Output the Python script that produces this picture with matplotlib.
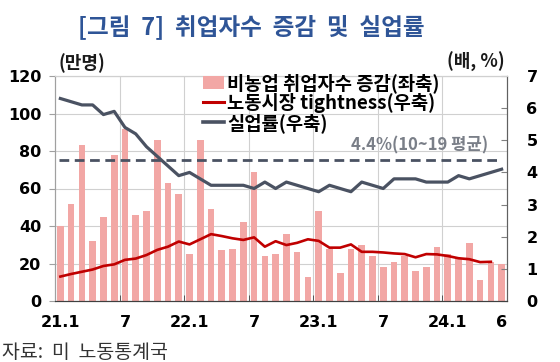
import numpy as np
import matplotlib
matplotlib.use("Agg")
import matplotlib.pyplot as plt
from matplotlib.patches import Patch
from matplotlib.lines import Line2D

plt.rcParams['font.family'] = ['Noto Sans CJK KR', 'DejaVu Sans']

# 21.1 ~ 24.6 월별
months = list(range(42))
tick_pos = [0, 6, 12, 18, 24, 30, 36, 41]
tick_labels = ['21.1', '7', '22.1', '7', '23.1', '7', '24.1', '6']

# 비농업 취업자수 증감 (만명, 좌축)
emp_change = [40, 52, 83, 32, 45, 78, 92, 46, 48, 86, 63, 57,
              25, 86, 49, 27, 28, 42, 69, 24, 25, 36, 26, 13,
              48, 28, 15, 28, 30, 24, 18, 21, 24, 16, 18, 29,
              25, 23, 31, 11, 21, 20]

# 노동시장 tightness (배, 우축) - 24.6 없음
tightness = [0.76, 0.84, 0.91, 0.98, 1.09, 1.14, 1.28, 1.32, 1.43, 1.59, 1.69, 1.85,
             1.76, 1.92, 2.08, 2.02, 1.95, 1.90, 1.98, 1.69, 1.86, 1.74, 1.81, 1.92,
             1.87, 1.66, 1.66, 1.76, 1.53, 1.53, 1.51, 1.48, 1.46, 1.36, 1.46, 1.45,
             1.40, 1.33, 1.30, 1.21, 1.22, np.nan]

# 실업률 (%, 우축)
unemp = [6.3, 6.2, 6.1, 6.1, 5.8, 5.9, 5.4, 5.2, 4.8, 4.5, 4.2, 3.9,
         4.0, 3.8, 3.6, 3.6, 3.6, 3.6, 3.5, 3.7, 3.5, 3.7, 3.6, 3.5,
         3.4, 3.6, 3.5, 3.4, 3.7, 3.6, 3.5, 3.8, 3.8, 3.8, 3.7, 3.7,
         3.7, 3.9, 3.8, 3.9, 4.0, 4.1]

avg_unemp = 4.4  # 10~19 평균

bar_color = '#F2A7A5'
red = '#C00000'
gray = '#4A5262'
grid_color = '#D0D0D0'
tick_font = {'family': 'DejaVu Sans', 'weight': 'bold', 'size': 11.5}

fig = plt.figure(figsize=(5.6, 3.62), dpi=100)
ax = fig.add_axes([55 / 560, 1 - 301 / 362, 452 / 560, 225 / 362])
ax2 = ax.twinx()

ax.bar(months, emp_change, width=0.62, color=bar_color, zorder=2)
ax2.plot(months, tightness, color=red, lw=1.9, zorder=3)
ax2.plot(months, unemp, color=gray, lw=2.3, zorder=4)
ax2.axhline(avg_unemp, xmin=0.008, xmax=0.985, color=gray, lw=2.0,
            ls=(0, (3.5, 2)), zorder=3)

ax.set_xlim(-0.5, 41.5)
ax.set_ylim(0, 120)
ax2.set_ylim(0, 7)

# 좌축
ax.set_yticks(range(0, 121, 20))
ax.set_yticklabels([str(v) for v in range(0, 121, 20)], fontdict=tick_font)
ax.tick_params(axis='y', length=4, color='#A0A0A0', pad=6)
ax.yaxis.grid(True, color=grid_color, lw=0.8, zorder=0)

# 우축
ax2.set_yticks(range(0, 8))
ax2.set_yticklabels([str(v) for v in range(0, 8)], fontdict=tick_font)
ax2.tick_params(axis='y', direction='in', length=4, color='#808080', pad=14)

# x축: 라벨은 월 중앙, 눈금/그리드는 경계
ax.set_xticks(tick_pos)
ax.set_xticklabels(tick_labels, fontdict=tick_font)
ax.tick_params(axis='x', length=0, pad=10)
ax.set_xticks(np.arange(5.5, 41, 6), minor=True)
ax.tick_params(axis='x', which='minor', direction='in', length=4, color='#404040')
ax.xaxis.grid(True, which='minor', color=grid_color, lw=0.8, zorder=0)

for a in (ax, ax2):
    a.spines['top'].set_color(grid_color)
    a.spines['left'].set_color('#A0A0A0')
    a.spines['right'].set_color('#606060')
    a.spines['bottom'].set_color('#404040')
    a.spines['left'].set_linewidth(0.8)
    a.spines['right'].set_linewidth(0.8)

ax2.text(39.7, 4.85, '4.4%(10~19 평균)', ha='right', va='center',
         fontsize=12, fontweight='bold', color='#7A7F88')

handles = [Patch(facecolor=bar_color, edgecolor='none'),
           Line2D([0], [0], color=red, lw=2.2),
           Line2D([0], [0], color=gray, lw=2.6)]
labels = ['비농업 취업자수 증감(좌축)', '노동시장 tightness(우축)', '실업률(우축)']
fig.legend(handles, labels, loc='upper left', bbox_to_anchor=(203 / 560, 1 - 73 / 362),
           frameon=False, handlelength=1.1, handleheight=0.7, handletextpad=0.2,
           labelspacing=0.0, borderaxespad=0, borderpad=0,
           prop={'weight': 'bold', 'size': 13.5})

fig.text(251 / 560, 1 - 27 / 362, '[그림  7]  취업자수  증감  및  실업률', ha='center', va='center',
         fontsize=17, fontweight='bold', color='#2F5597')
fig.text(82 / 560, 1 - 63 / 362, '(만명)', ha='center', va='center',
         fontsize=13, fontweight='bold', color='#1A1A1A')
fig.text(476 / 560, 1 - 62 / 362, '(배, %)', ha='center', va='center',
         fontsize=13, fontweight='bold', color='#1A1A1A')
fig.text(2 / 560, 1 - 352 / 362, '자료:  미  노동통계국', ha='left', va='center',
         fontsize=14, color='#333333')

fig.savefig('out.png', dpi=100)
